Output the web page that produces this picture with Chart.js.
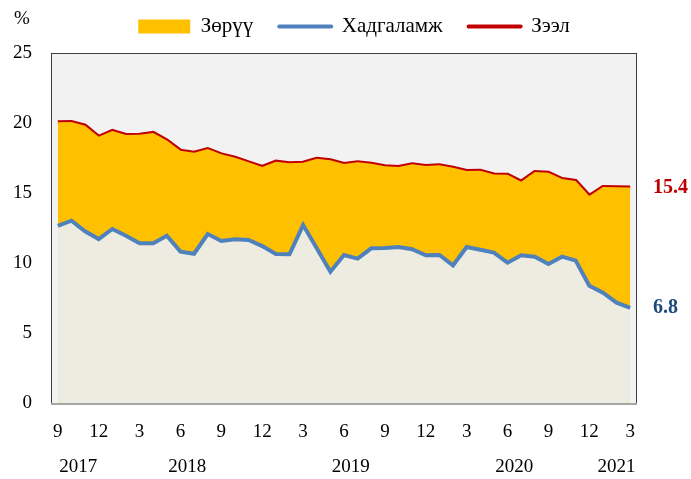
<!DOCTYPE html>
<html lang="mn">
<head>
<meta charset="UTF-8" />
<title>Зээл, хадгаламжийн хүү</title>
<script src="https://cdn.jsdelivr.net/npm/chart.js"></script>
<style>
  html, body { margin: 0; padding: 0; background: #fff; }
  #wrap { width: 691px; height: 479px; }
</style>
</head>
<body>
<div id="wrap"><canvas id="rateChart" width="691" height="479"></canvas></div>
<script>
// months, 2017.9 - 2021.3
const months = [9, 10, 11, 12,
  1, 2, 3, 4, 5, 6, 7, 8, 9, 10, 11, 12,
  1, 2, 3, 4, 5, 6, 7, 8, 9, 10, 11, 12,
  1, 2, 3, 4, 5, 6, 7, 8, 9, 10, 11, 12,
  1, 2, 3];
const years = ["2017", "2018", "2019", "2020", "2021"];

// Зээлийн хүү, %
const loanRate = [20.05, 20.07, 19.81, 19.02,
  19.43, 19.14, 19.16, 19.29, 18.75, 18.02, 17.88, 18.14, 17.76, 17.52, 17.19, 16.86,
  17.24, 17.12, 17.16, 17.45, 17.34, 17.07, 17.19, 17.09, 16.91, 16.86, 17.05, 16.93,
  16.98, 16.81, 16.57, 16.59, 16.33, 16.30, 15.81, 16.50, 16.45, 16.00, 15.86, 14.79,
  15.43, 15.41, 15.40];

// Хадгаламжийн хүү, %
const depositRate = [12.66, 13.02, 12.26, 11.71,
  12.43, 11.95, 11.41, 11.41, 11.95, 10.81, 10.66, 12.07, 11.57, 11.69, 11.64, 11.21,
  10.64, 10.62, 12.71, 11.05, 9.38, 10.57, 10.31, 11.05, 11.07, 11.14, 10.98, 10.55,
  10.57, 9.83, 11.14, 10.95, 10.74, 10.02, 10.55, 10.45, 9.93, 10.45, 10.17, 8.38,
  7.88, 7.17, 6.80];

const yTicks = [0, 5, 10, 15, 20, 25];

const RED = "#C00000";
const BLUE = "#4F81BD";
const GOLD = "#FFC000";
const TAN = "#EEECE1";
const SERIF = '"Liberation Serif", "Times New Roman", serif';

// middle of each year's run of months
const yearCenters = [];
{
  let start = 0;
  for (let i = 1; i <= months.length; i++) {
    if (i === months.length || months[i] === 1) {
      yearCenters.push((start + i - 1) / 2);
      start = i;
    }
  }
}

Chart.defaults.font.family = SERIF;
Chart.defaults.font.size = 19;
Chart.defaults.color = "#000";

// plot background + frame
const plotFrame = {
  id: "plotFrame",
  beforeDatasetsDraw(chart) {
    const { ctx, chartArea: a } = chart;
    ctx.save();
    ctx.fillStyle = "#F2F2F2";
    ctx.fillRect(a.left, a.top, a.right - a.left, a.bottom - a.top);
    ctx.restore();
  },
  afterDatasetsDraw(chart) {
    const { ctx, chartArea: a } = chart;
    ctx.save();
    ctx.strokeStyle = "#404040";
    ctx.lineWidth = 1;
    ctx.strokeRect(a.left + 0.5, a.top + 0.5, a.right - a.left - 1, a.bottom - a.top);
    ctx.strokeStyle = "#A6A6A6";
    ctx.lineWidth = 2;
    ctx.beginPath();
    ctx.moveTo(a.left, a.bottom + 1);
    ctx.lineTo(a.right, a.bottom + 1);
    ctx.stroke();
    ctx.restore();
  }
};

// last values to the right, "%" above the y axis
const sideText = {
  id: "sideText",
  afterDraw(chart) {
    const { ctx, chartArea: a } = chart;
    const y = chart.scales.y;
    ctx.save();
    ctx.textBaseline = "middle";
    ctx.textAlign = "center";
    ctx.fillStyle = "#000";
    ctx.font = "19px " + SERIF;
    ctx.fillText("%", a.left - 29, a.top - 34);
    ctx.textAlign = "left";
    ctx.font = "bold 20px " + SERIF;
    chart.data.datasets.forEach((ds) => {
      if (!ds.endColor) return;
      const v = ds.data[ds.data.length - 1];
      ctx.fillStyle = ds.endColor;
      ctx.fillText(v.toFixed(1), a.right + 16, y.getPixelForValue(v));
    });
    ctx.restore();
  }
};

// fixed legend height
const legendSize = {
  id: "legendSize",
  beforeLayout(chart) {
    const lg = chart.legend;
    if (!lg || lg._patched) return;
    const fit = lg.fit;
    lg.fit = function () {
      fit.call(this);
      this.height = 63;
    };
    lg._patched = true;
  }
};

const legendOrder = [1, 0, 2];

const ctx = document.getElementById("rateChart").getContext("2d");
new Chart(ctx, {
  type: "line",
  data: {
    labels: months,
    datasets: [
      {
        label: "Хадгаламж",
        data: depositRate,
        borderColor: BLUE,
        borderWidth: 4,
        backgroundColor: TAN,
        fill: "origin",
        pointRadius: 0,
        tension: 0,
        legendStyle: "line",
        legendColor: BLUE,
        endColor: "#1F497D"
      },
      {
        label: "Зөрүү",
        data: loanRate,
        borderColor: "rgba(0,0,0,0)",
        borderWidth: 1,
        backgroundColor: GOLD,
        fill: 0,
        pointRadius: 0,
        tension: 0,
        legendStyle: "rect",
        legendColor: GOLD
      },
      {
        label: "Зээл",
        data: loanRate,
        borderColor: RED,
        borderWidth: 4,
        fill: false,
        pointRadius: 0,
        tension: 0,
        legendStyle: "line",
        legendColor: RED,
        endColor: RED
      }
    ]
  },
  options: {
    responsive: false,
    animation: false,
    devicePixelRatio: 1,
    layout: { padding: { top: -10, left: 0, right: -17, bottom: 0 } },
    plugins: {
      tooltip: { enabled: false },
      legend: {
        position: "top",
        labels: {
          usePointStyle: true,
          pointStyleWidth: 52,
          boxHeight: 14,
          padding: 26,
          font: { size: 21 },
          generateLabels: (chart) =>
            legendOrder.map((i) => {
              const ds = chart.data.datasets[i];
              return {
                text: ds.label,
                fillStyle: ds.legendColor,
                strokeStyle: ds.legendColor,
                lineWidth: ds.legendStyle === "line" ? 4 : 0,
                lineCap: "round",
                pointStyle: ds.legendStyle,
                hidden: false,
                datasetIndex: i
              };
            })
        }
      }
    },
    scales: {
      x: {
        type: "category",
        offset: true,
        weight: 0,
        grid: { display: false, drawTicks: false },
        border: { display: false },
        ticks: {
          autoSkip: false,
          maxRotation: 0,
          padding: 18,
          callback: (v, i) => (months[i] % 3 === 0 ? String(months[i]) : "")
        },
        afterFit: (axis) => { axis.height = 41; }
      },
      x2: {
        type: "linear",
        position: "bottom",
        weight: 1,
        min: -0.5,
        max: months.length - 0.5,
        grid: { display: false, drawTicks: false },
        border: { display: false },
        afterBuildTicks: (axis) => {
          axis.ticks = yearCenters.map((v) => ({ value: v }));
        },
        ticks: {
          autoSkip: false,
          maxRotation: 0,
          padding: 12,
          callback: (v, i) => years[i]
        },
        afterFit: (axis) => { axis.height = 35; }
      },
      y: {
        min: 0,
        max: 25,
        grid: { display: false, drawTicks: false },
        border: { display: false },
        afterBuildTicks: (axis) => {
          axis.ticks = yTicks.map((v) => ({ value: v }));
        },
        ticks: { padding: 19 },
        afterFit: (axis) => { axis.width = 51; }
      },
      yRight: {
        type: "linear",
        position: "right",
        grid: { display: false, drawTicks: false },
        border: { display: false },
        ticks: { display: false },
        afterFit: (axis) => { axis.width = 71; }
      }
    }
  },
  plugins: [plotFrame, sideText, legendSize]
});
</script>
</body>
</html>
